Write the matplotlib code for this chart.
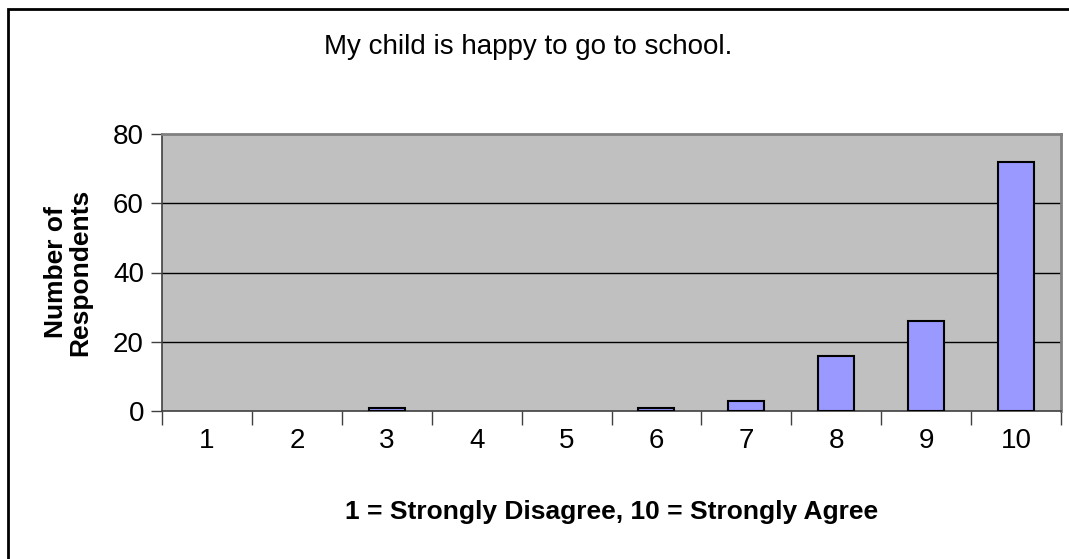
import matplotlib
matplotlib.use("Agg")
from matplotlib import pyplot as plt
from matplotlib.patches import Rectangle

plt.rcParams['font.family'] = ['Liberation Sans', 'DejaVu Sans']

# survey answers, 1..10 scale
scores = ["1", "2", "3", "4", "5", "6", "7", "8", "9", "10"]
respondents = [0, 0, 1, 0, 0, 1, 3, 16, 26, 72]
yticks = [0, 20, 40, 60, 80]

title = "My child is happy to go to school."
xlabel = "1 = Strongly Disagree, 10 = Strongly Agree"
ylabel = "Number of\nRespondents"

fig = plt.figure(figsize=(10.69, 5.59), dpi=100)
ax = fig.add_axes([162/1069, 1 - 411/559, (1061 - 162)/1069, (411 - 134)/559])

pos = list(range(len(scores)))
edges = ["black" if v > 0 else "none" for v in respondents]
ax.bar(pos, respondents, width=0.4, color="#9999FF", edgecolor=edges,
       linewidth=1.5, zorder=3)

ax.set_facecolor("#C0C0C0")
ax.set_xlim(-0.5, len(scores) - 0.5)
ax.set_ylim(0, 80)
ax.set_yticks(yticks)
ax.tick_params(axis="y", labelsize=20, length=8, width=1, color="#404040", pad=5)
for y in yticks[1:-1]:
    ax.axhline(y, color="black", linewidth=1, zorder=1)

# category ticks sit between the bars
ax.set_xticks([p - 0.5 for p in pos] + [len(scores) - 0.5])
ax.set_xticklabels([])
ax.set_xticks(pos, minor=True)
ax.set_xticklabels(scores, minor=True)
ax.tick_params(axis="x", which="major", length=10, width=1, color="#404040")
ax.tick_params(axis="x", which="minor", length=0, labelsize=20, pad=12)

for side in ["top", "right"]:
    ax.spines[side].set_color("#808080")
    ax.spines[side].set_linewidth(2)
for side in ["left", "bottom"]:
    ax.spines[side].set_color("#404040")
    ax.spines[side].set_linewidth(1.2)

ax.set_xlabel(xlabel, fontsize=19, fontweight="bold", labelpad=33)
ax.set_ylabel(ylabel, fontsize=19, fontweight="bold", labelpad=15,
              linespacing=1.0)

fig.text(0.494, 1 - 47/559, title, ha="center", va="center", fontsize=20)

# outer chart border (right and bottom fall off the image)
fig.patches.append(Rectangle((8/1069, -0.05), 1.1, 1 - 9/559 + 0.05,
                             transform=fig.transFigure, fill=False,
                             edgecolor="black", linewidth=2))

fig.savefig("out.png", dpi=100)
